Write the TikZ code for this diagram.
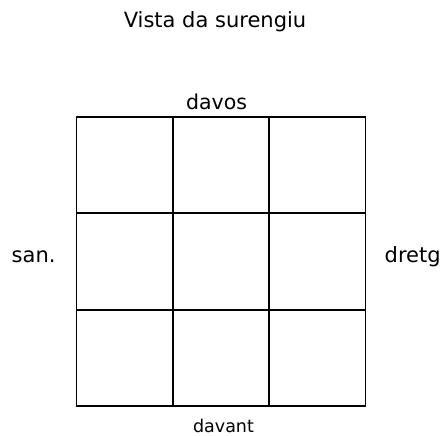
\documentclass[tikz,border=0pt]{standalone}
\usepackage{fontspec}
\setmainfont{DejaVu Sans}
\begin{document}
\begin{tikzpicture}[x=1pt,y=-1pt,
  lbl/.style={inner sep=0pt,anchor=base,font=\fontsize{21}{25}\selectfont},
  small/.style={inner sep=0pt,anchor=base,font=\fontsize{17.5}{21}\selectfont},
  gridline/.style={line width=1.9pt,line cap=rect}]
\useasboundingbox (0,0) rectangle (443,435);
\node[lbl] (title) at (215,27.5) {Vista da surengiu};
\node[lbl,font=\fontsize{20.5}{25}\selectfont] (davos) at (216.5,110) {davos};
\node[lbl,anchor=base west] (san) at (11.5,262) {san.};
\node[lbl,anchor=base west] (dretg) at (384.5,262) {dretg};
\node[small] (davant) at (223.5,432) {davant};
\foreach \i in {0,1,2,3} {
  \draw[gridline] (76.5+96.33*\i,117) -- (76.5+96.33*\i,406);
  \draw[gridline] (76.5,117+96.33*\i) -- (365.5,117+96.33*\i);
}
\end{tikzpicture}
\end{document}
